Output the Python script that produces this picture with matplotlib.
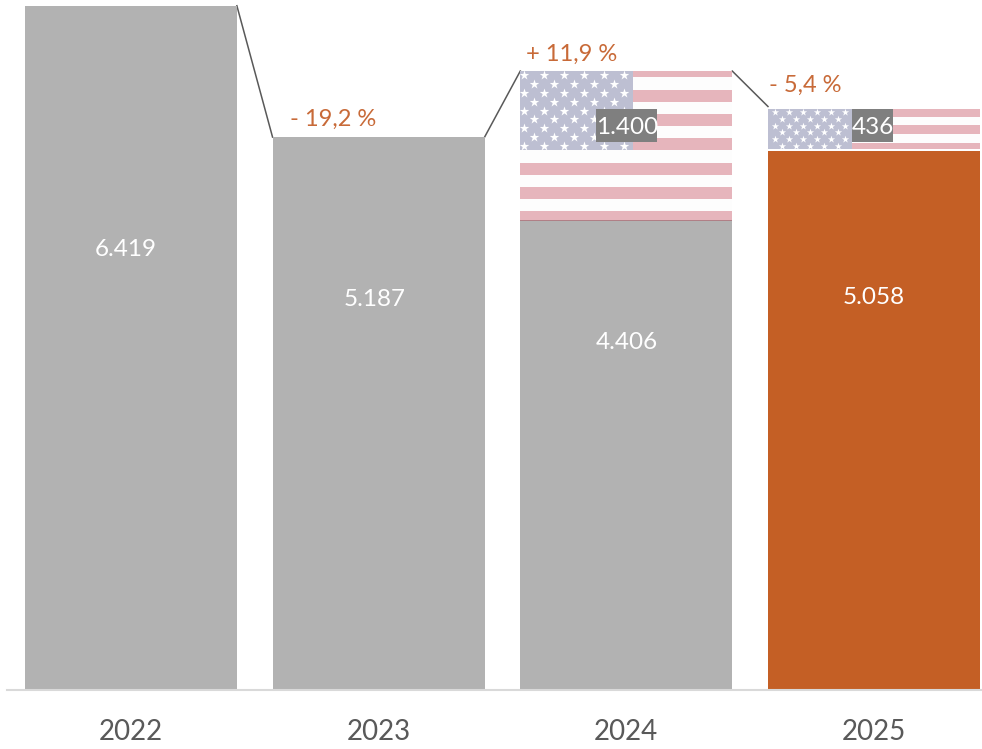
import matplotlib
matplotlib.use("Agg")
import matplotlib.pyplot as plt
import numpy as np

plt.rcParams['font.family'] = ['Lato', 'DejaVu Sans']

years = ['2022', '2023', '2024', '2025']
base_values = [6419, 5187, 4406, 5058]
us_values = [0, 0, 1400, 436]
changes = ['- 19,2 %', '+ 11,9 %', '- 5,4 %']

GREY = '#B2B2B2'
ORANGE = '#C45F25'
TEXT_ORANGE = '#C86A38'
PINK = '#E6B5BC'
FLAG_WHITE = '#FDFDFD'
CANTON = '#BDBFD2'
WIDTH = 0.856


def draw_flag(ax, x, bottom, height, stripe, first, canton_w, canton_h, rows, col_step, start, star):
    # stripes run downwards from the flag top, first one is cut off
    left = x - WIDTH / 2
    top = bottom + height
    ax.bar(x, height, WIDTH, bottom=bottom, color=FLAG_WHITE, zorder=2)
    y = top
    h = first
    while y > bottom:
        ax.bar(x, min(h, y - bottom), WIDTH, bottom=max(y - h, bottom), color=PINK, zorder=3)
        y -= h + stripe
        h = stripe
    ax.bar(left, canton_h, canton_w, bottom=top - canton_h, align='edge', color=CANTON, zorder=4)
    row_step = canton_h / rows
    for r in range(rows):
        offset = col_step / 2 if r % 2 else 0
        n = 6 if r % 2 == 0 else 5
        xs = left + start + offset + col_step * np.arange(n)
        ys = np.full(n, top - row_step * (r + 0.5))
        ax.scatter(xs, ys, marker='*', s=star, color='white', linewidths=0, zorder=5)


fig = plt.figure(figsize=(9.82, 7.49), dpi=100)
ax = fig.add_axes([7 / 982, 59 / 749, 975 / 982, 690 / 749])
ax.set_xlim(-0.5, 3.436)
ax.set_ylim(0, 6473)

x = np.arange(len(years))
colors = [GREY, GREY, GREY, ORANGE]
ax.bar(x, base_values, WIDTH, color=colors, zorder=2)

# 2024 and 2025 flags on top of the bars
draw_flag(ax, 2, base_values[2], us_values[2], 114, 60, 0.456, 740, 9, 0.0807, 0.016, 52)
draw_flag(ax, 3, base_values[3] + 15, us_values[3] - 55, 82, 75, 0.339, 381, 6, 0.0565, 0.028, 30)
ax.bar(2, 14, WIDTH, bottom=base_values[2] - 7, color='#B07F86', zorder=6)

# connector lines between the bar tops
totals = [b + u for b, u in zip(base_values, us_values)]
for i in range(3):
    ax.plot([x[i] + WIDTH / 2, x[i + 1] - WIDTH / 2], [totals[i], totals[i + 1] + (0 if i != 2 else -20)],
            color='#595959', lw=1.1, zorder=1, clip_on=False)

# white value labels
label_y = [4136, 3667, 3263, 3680]
label_x = [-0.02, -0.016, 0, 0]
for i in range(4):
    ax.text(x[i] + label_x[i], label_y[i], f'{base_values[i] / 1000:.3f}', color='white', fontsize=17.5,
            ha='center', va='center', zorder=7)

# boxed labels on the flags
for i, w, dx in [(2, 0.246, 0.002), (3, 0.166, -0.006)]:
    xc = x[i] + dx
    ax.bar(xc, 310, w, bottom=5140, color='#7F7F7F', zorder=6)
    ax.text(xc, 5280, f'{us_values[i] / 1000:.3f}' if us_values[i] >= 1000 else str(us_values[i]),
            color='white', fontsize=17.5, ha='center', va='center', zorder=7)

# change labels
change_x = [1 - 0.359, 2 - 0.404, 3 - 0.423]
change_y = [5349, 5962, 5672]
for cx, cy, t in zip(change_x, change_y, changes):
    ax.text(cx, cy, t, color=TEXT_ORANGE, fontsize=17, ha='left', va='center', zorder=7)

ax.set_xticks(x)
ax.set_xticklabels(years, fontsize=20, color='#595959')
ax.tick_params(axis='x', length=0, pad=21)
ax.set_yticks([])
for s in ['top', 'left', 'right']:
    ax.spines[s].set_visible(False)
ax.spines['bottom'].set_color('#D9D9D9')
ax.spines['bottom'].set_linewidth(1.5)

fig.savefig('out.png', dpi=100)
